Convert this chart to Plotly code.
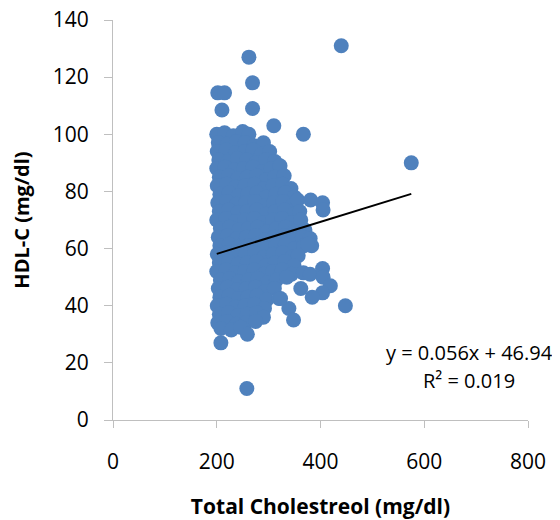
import plotly.graph_objects as go

# ---- data ----
core_points = [
    (200, 100), (215, 100.5), (232, 99.5), (250, 101), (262, 100),
    (203, 97), (220, 96.5), (238, 97.5), (255, 97), (272, 96), (290, 97),
    (201, 94), (218, 94.5), (236, 93.5), (254, 94), (270, 94.5), (286, 93), (302, 94),
    (204, 91), (222, 90.5), (240, 91.5), (258, 91), (276, 90), (294, 91), (312, 90.5),
    (200, 88), (216, 88.5), (234, 87.5), (252, 88), (270, 88.5), (288, 87), (305, 88), (322, 89),
    (205, 85), (223, 85.5), (241, 84.5), (259, 85), (277, 85.5), (295, 84), (312, 85), (330, 85.5),
    (201, 82), (219, 82.5), (237, 81.5), (255, 82), (273, 82.5), (291, 81), (309, 82), (327, 82.5), (343, 81),
    (206, 79), (224, 79.5), (242, 78.5), (260, 79), (278, 79.5), (296, 78), (314, 79), (332, 79.5), (350, 78),
    (202, 76), (220, 76.5), (238, 75.5), (256, 76), (274, 76.5), (292, 75), (310, 76), (328, 76.5), (346, 75), (356, 77),
    (205, 73), (223, 73.5), (241, 72.5), (259, 73), (277, 73.5), (295, 72), (313, 73), (331, 73.5), (349, 72), (360, 73),
    (200, 70), (218, 70.5), (236, 69.5), (254, 70), (272, 70.5), (290, 69), (308, 70), (326, 70.5), (344, 69), (362, 70),
    (207, 67), (225, 67.5), (243, 66.5), (261, 67), (279, 67.5), (297, 66), (315, 67), (333, 67.5), (351, 66), (370, 66.5),
    (203, 64), (221, 64.5), (239, 63.5), (257, 64), (275, 64.5), (293, 63), (311, 64), (329, 64.5), (347, 63), (365, 64), (380, 63.5),
    (206, 61), (224, 61.5), (242, 60.5), (260, 61), (278, 61.5), (296, 60), (314, 61), (332, 61.5), (350, 60), (368, 61), (383, 61),
    (201, 58), (219, 58.5), (237, 57.5), (255, 58), (273, 58.5), (291, 57), (309, 58), (327, 58.5), (345, 57), (357, 57.5),
    (205, 55), (223, 55.5), (241, 54.5), (259, 55), (277, 55.5), (295, 54), (313, 55), (331, 55.5), (349, 54),
    (200, 52), (218, 52.5), (236, 51.5), (254, 52), (272, 52.5), (290, 51), (308, 52), (326, 52.5), (344, 51), (367, 51.5), (380, 51),
    (207, 49), (225, 49.5), (243, 48.5), (261, 49), (279, 49.5), (297, 48), (315, 49), (335, 50),
    (203, 46), (221, 46.5), (239, 45.5), (257, 46), (275, 46.5), (293, 45), (311, 46),
    (206, 43), (224, 43.5), (242, 42.5), (260, 43), (278, 43.5), (296, 42), (320, 42.5),
    (201, 40), (219, 40.5), (237, 39.5), (255, 40), (273, 40.5), (292, 39),
    (205, 37), (223, 37.5), (241, 36.5), (259, 37), (277, 37.5), (290, 36),
    (202, 34), (220, 34.5), (238, 33.5), (256, 34), (275, 34.5),
    (208, 32), (228, 31.5), (246, 32.5),
]

outlier_points = [
    (202, 114.5), (215, 114.5), (210, 108.5), (262, 127), (269, 118), (269, 109),
    (310, 103), (367, 100), (440, 131), (575, 90), (381, 77), (404, 76), (405, 73.5),
    (404, 53), (405, 50), (419, 47), (404, 44.5), (384, 43), (362, 46), (448, 40),
    (339, 39), (348, 35), (323, 42.5), (208, 27), (259, 30), (258, 11), (375, 61.5),
]

trend_slope = 0.056
trend_intercept = 46.94
r_squared = 0.019

x_ticks = [0, 200, 400, 600, 800]
y_ticks = [0, 20, 40, 60, 80, 100, 120, 140]

all_points = core_points + outlier_points
tc = [p[0] for p in all_points]
hdl = [p[1] for p in all_points]

x_line = [min(tc), max(tc)]
y_line = [trend_slope * v + trend_intercept for v in x_line]

FONT = "Open Sans"
AXIS_GRAY = "#bfbfbf"

fig = go.Figure()
fig.add_trace(go.Scatter(
    x=tc, y=hdl, mode="markers",
    marker=dict(size=15, color="#4f81bd", line=dict(width=0)),
    showlegend=False, hoverinfo="skip",
))
fig.add_trace(go.Scatter(
    x=x_line, y=y_line, mode="lines",
    line=dict(color="black", width=2),
    showlegend=False, hoverinfo="skip",
))

fig.add_annotation(
    x=0.858, y=0.168, xref="paper", yref="paper", xanchor="center", yanchor="middle",
    text=f"y = {trend_slope}x + {trend_intercept}",
    showarrow=False, font=dict(family=FONT, size=20, color="black"),
)
fig.add_annotation(
    x=0.858, y=0.098, xref="paper", yref="paper", xanchor="center", yanchor="middle",
    text=f"R² = {r_squared}",
    showarrow=False, font=dict(family=FONT, size=20, color="black"),
)

fig.update_layout(
    width=560, height=520,
    margin=dict(l=105, r=40, t=12, b=108, autoexpand=False),
    paper_bgcolor="white", plot_bgcolor="white",
    font=dict(family=FONT, size=21, color="black"),
    xaxis=dict(
        range=[0, 800], tickvals=x_ticks, ticktext=[str(v) for v in x_ticks],
        showgrid=False, zeroline=False, showline=True, linecolor=AXIS_GRAY, linewidth=1,
        ticks="outside", ticklen=7, tickcolor=AXIS_GRAY, tickwidth=1,
        ticklabelstandoff=16, automargin=False, ticklabeloverflow="allow",
        title=dict(text="<b>Total Cholestreol (mg/dl)</b>", font=dict(family=FONT, size=21), standoff=25),
    ),
    yaxis=dict(
        range=[0, 140], tickvals=y_ticks, ticktext=[str(v) for v in y_ticks],
        showgrid=False, zeroline=False, showline=True, linecolor=AXIS_GRAY, linewidth=1,
        ticks="outside", ticklen=8, tickcolor=AXIS_GRAY, tickwidth=1,
        ticklabelstandoff=11, automargin=False, ticklabeloverflow="allow",
        title=dict(text="<b>HDL-C (mg/dl)</b>", font=dict(family=FONT, size=20), standoff=19),
    ),
)

fig.write_html("out.html")
